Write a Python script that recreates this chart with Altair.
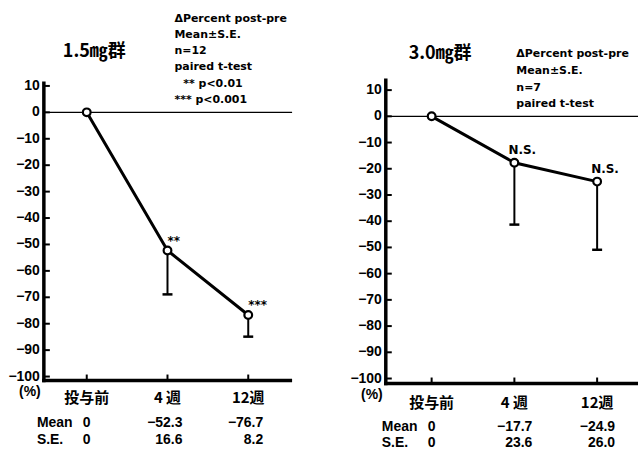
import altair as alt
import pandas as pd

# ---------------- data ----------------
categories = ["投与前", "4 週", "12週"]
titles = ["1.5㎎群", "3.0㎎群"]
mean_15 = [0, -52.3, -76.7]
se_15 = [0, 16.6, 8.2]
sig_15 = ["", "**", "***"]
mean_30 = [0, -17.7, -24.9]
se_30 = [0, 23.6, 26.0]
sig_30 = ["", "N.S.", "N.S."]
y_ticks = [10, 0, -10, -20, -30, -40, -50, -60, -70, -80, -90, -100]
notes_15 = ["ΔPercent post-pre", "Mean±S.E.", "n=12", "paired t-test",
            "** p<0.01", "*** p<0.001"]
notes_30 = ["ΔPercent post-pre", "Mean±S.E.", "n=7", "paired t-test"]
row_labels = ["Mean", "S.E."]
unit_label = "(%)"

NUM_FONT = "Liberation Sans"
NOTE_FONT = "DejaVu Sans"
CJK_FONT = "Noto Sans CJK JP"


def fmt(v, dec=1):
    if v == 0:
        return "0"
    s = f"{abs(v):.{dec}f}"
    return "\u2212" + s if v < 0 else s


def panel(title, means, ses, sigs, notes, note_indent, width, height, xdom, ydom,
          title_pos, note_x, note_y0, note_step, row_y, val_dx, label_pad, sig_dx, sig_dy,
          axis_top):
    idx = list(range(len(categories)))
    df = pd.DataFrame({
        "x": idx,
        "cat": categories,
        "mean": means,
        "se": ses,
        "lo": [m - s for m, s in zip(means, ses)],
        "sig": sigs,
    })
    xs = alt.Scale(domain=xdom, nice=False, zero=False)
    ys = alt.Scale(domain=ydom, nice=False, zero=False)

    def X(f):
        return alt.X(f, scale=xs, axis=None)

    def Y(f):
        return alt.Y(f, scale=ys, axis=None)

    base = alt.Chart(df)
    line = base.mark_line(color="black", strokeWidth=3).encode(x=X("x:Q"), y=Y("mean:Q"))
    zero = alt.Chart(pd.DataFrame({"z": [0]})).mark_rule(color="black", strokeWidth=1.4).encode(
        y=Y("z:Q")
    )
    err = base.transform_filter("datum.se > 0").mark_rule(color="black", strokeWidth=2).encode(
        x=X("x:Q"), y=Y("mean:Q"), y2="lo:Q"
    )
    cap = base.transform_filter("datum.se > 0").mark_rule(
        color="black", strokeWidth=2.5, xOffset=-5, x2Offset=5
    ).encode(x=X("x:Q"), x2="x:Q", y=Y("lo:Q"))
    pts = base.mark_point(shape="circle", filled=True, fill="white", stroke="black",
                          strokeWidth=2.2, size=60, opacity=1).encode(x=X("x:Q"), y=Y("mean:Q"))
    sig = base.mark_text(align="left", baseline="middle", dx=sig_dx, dy=sig_dy,
                         font=NOTE_FONT, fontWeight="bold", fontSize=12,
                         color="black").encode(x=X("x:Q"), y=Y("mean:Q"), text="sig:N")

    # axis lines (frame of the plot, from the scale domains)
    adf = pd.DataFrame({"x0": [xdom[0]], "x1": [xdom[1]], "y0": [ydom[0]], "y1": [ydom[1]]})
    yline = alt.Chart(adf).mark_rule(
        color="black", strokeWidth=3.5, yOffset=axis_top, y2Offset=1.75
    ).encode(x=X("x0:Q"), y=Y("y1:Q"), y2="y0:Q")
    xline = alt.Chart(adf).mark_rule(
        color="black", strokeWidth=3.5, xOffset=-1.75
    ).encode(x=X("x0:Q"), x2="x1:Q", y=Y("y0:Q"))
    # inward ticks
    tdf = pd.DataFrame({"t": y_ticks, "lab": [fmt(t, 0) for t in y_ticks]})
    ytk = alt.Chart(tdf).mark_rule(color="black", strokeWidth=2).encode(
        x=alt.value(0), x2=alt.value(6), y=Y("t:Q")
    )
    ylab = alt.Chart(tdf).mark_text(
        align="right", baseline="middle", font=NUM_FONT, fontSize=14, fontWeight="bold",
        color="black"
    ).encode(x=alt.value(-4), y=Y("t:Q"), text="lab:N")
    xtk = base.mark_rule(color="black", strokeWidth=2).encode(
        x=X("x:Q"), y=alt.value(height), y2=alt.value(height - 6)
    )
    xlab = base.mark_text(
        align="center", baseline="middle", font=CJK_FONT, fontSize=15, fontWeight="bold",
        color="black"
    ).encode(x=X("x:Q"), y=alt.value(height + label_pad), text="cat:N")
    unit = alt.Chart(pd.DataFrame({"u": [unit_label]})).mark_text(
        align="center", baseline="middle", font=NUM_FONT, fontSize=14, fontWeight="bold",
        color="black"
    ).encode(x=alt.value(-14), y=alt.value(height + 12), text="u:N")

    # title
    ttl = alt.Chart(pd.DataFrame({"x": [title_pos[0]], "y": [title_pos[1]], "t": [title]})).mark_text(
        align="center", baseline="middle", font=CJK_FONT, fontSize=18, fontWeight="bold",
        color="black"
    ).encode(x=X("x:Q"), y=Y("y:Q"), text="t:N")

    # notes block
    ndf = pd.DataFrame({
        "x": [note_x + note_indent.get(i, 0) for i in range(len(notes))],
        "y": [note_y0 + i * note_step for i in range(len(notes))],
        "t": notes,
    })
    nts = alt.Chart(ndf).mark_text(
        align="left", baseline="middle", font=NOTE_FONT, fontSize=11, fontWeight="bold",
        color="black"
    ).encode(x=X("x:Q"), y=Y("y:Q"), text="t:N")

    # summary table
    rdf = pd.DataFrame({"x": [0, 0], "y": row_y, "t": row_labels})
    rows = alt.Chart(rdf).mark_text(
        align="left", baseline="middle", dx=-50, font=NUM_FONT, fontSize=14, fontWeight="bold",
        color="black"
    ).encode(x=X("x:Q"), y=Y("y:Q"), text="t:N")
    vals = []
    for r, arr in enumerate([means, ses]):
        for i, v in enumerate(arr):
            vals.append({"x": i, "y": row_y[r], "t": fmt(v), "col": i})
    vdf = pd.DataFrame(vals)
    v0 = alt.Chart(vdf).transform_filter("datum.col == 0").mark_text(
        align="center", baseline="middle", font=NUM_FONT, fontSize=14, fontWeight="bold",
        color="black"
    ).encode(x=X("x:Q"), y=Y("y:Q"), text="t:N")
    v1 = alt.Chart(vdf).transform_filter("datum.col > 0").mark_text(
        align="right", baseline="middle", dx=val_dx, font=NUM_FONT, fontSize=14,
        fontWeight="bold", color="black"
    ).encode(x=X("x:Q"), y=Y("y:Q"), text="t:N")

    return alt.layer(zero, yline, xline, ytk, xtk, ylab, xlab, unit, line, err, cap, pts, sig,
                     ttl, nts, rows, v0, v1).properties(width=width, height=height)


left = panel(titles[0], mean_15, se_15, sig_15, notes_15, {4: 0.11},
             width=249, height=300, xdom=[-0.531, 2.543], ydom=[-101.5, 11.7],
             title_pos=(0.093, 23.0), note_x=1.086, note_y0=35.5, note_step=-6.15,
             row_y=[-117.7, -124.2], val_dx=15, label_pad=18, sig_dx=0, sig_dy=-10,
             axis_top=0)
right = panel(titles[1], mean_30, se_30, sig_30, notes_30, {},
              width=253, height=303, xdom=[-0.554, 2.494], ydom=[-101.9, 13.3],
              title_pos=(0.102, 23.9), note_x=1.024, note_y0=23.6, note_step=-6.35,
              row_y=[-118.6, -124.7], val_dx=18, label_pad=20, sig_dx=-6, sig_dy=-13,
              axis_top=-3)

chart = alt.hconcat(left, right, spacing=94, bounds="flush").configure_view(
    stroke=None
).properties(
    background="white",
    padding={"left": 8, "top": 11, "right": 0, "bottom": 0},
)

chart.save("out.html", embed_options={"renderer": "svg", "actions": False})
